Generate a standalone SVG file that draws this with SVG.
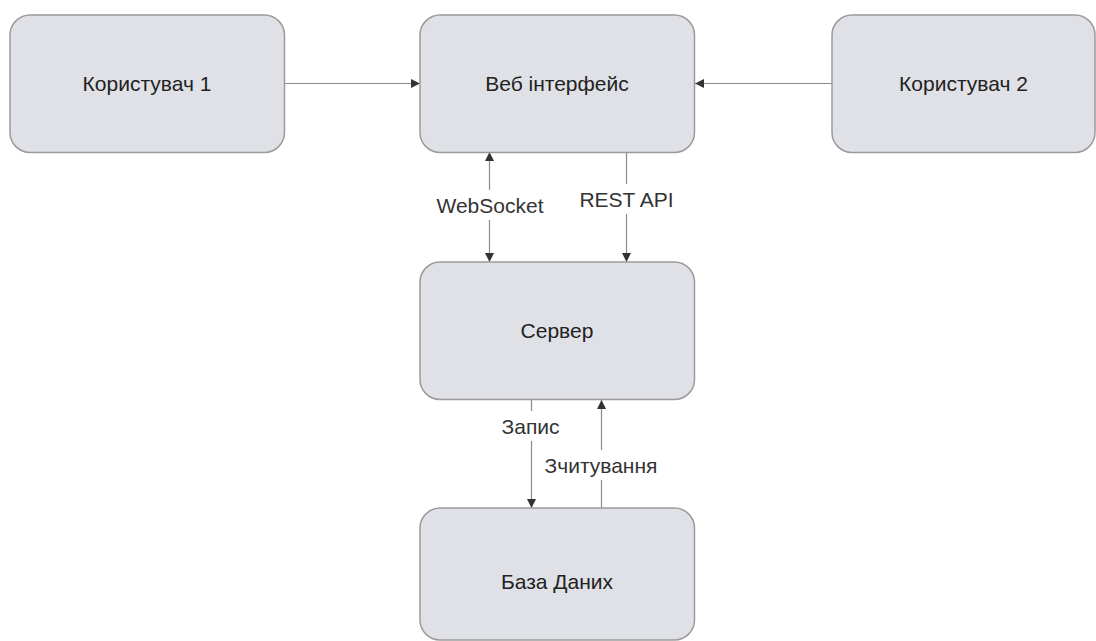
<svg xmlns="http://www.w3.org/2000/svg" width="1096" height="641" viewBox="0 0 1096 641">
<style>
.node{fill:#dfe1e6;stroke:#9b9b9b;stroke-width:1.5}
.nt{font-family:"Liberation Sans",Arial,sans-serif;font-size:21px;fill:#222;text-anchor:middle;dominant-baseline:central}
.lbl{font-family:"Liberation Sans",Arial,sans-serif;font-size:21px;fill:#333;text-anchor:middle;dominant-baseline:central}
.edge{stroke:#8a8a8a;stroke-width:1.2;fill:none}
.bg{fill:#fff}
</style>
<defs>
<marker id="ah" viewBox="0 0 10 10" refX="10" refY="5" markerWidth="9" markerHeight="9" markerUnits="userSpaceOnUse" orient="auto-start-reverse">
<path d="M0,0 L10,5 L0,10 z" fill="#333"/>
</marker>
</defs>
<rect width="1096" height="641" fill="#fff"/>
<g id="connectors">
<line class="edge" x1="285" y1="83.5" x2="420" y2="83.5" marker-end="url(#ah)"/>
<line class="edge" x1="832" y1="83.5" x2="695" y2="83.5" marker-end="url(#ah)"/>
<line class="edge" x1="489.5" y1="152" x2="489.5" y2="262" marker-start="url(#ah)" marker-end="url(#ah)"/>
<line class="edge" x1="626.5" y1="152" x2="626.5" y2="262" marker-end="url(#ah)"/>
<line class="edge" x1="531.5" y1="400" x2="531.5" y2="508" marker-end="url(#ah)"/>
<line class="edge" x1="601.5" y1="508" x2="601.5" y2="400" marker-end="url(#ah)"/>
<rect class="bg" x="430" y="190" width="120" height="30"/>
<text class="lbl" x="490" y="205">WebSocket</text>
<rect class="bg" x="574" y="184" width="106" height="30"/>
<text class="lbl" x="626.5" y="199">REST API</text>
<rect class="bg" x="496" y="411" width="70" height="30"/>
<text class="lbl" x="530.5" y="426">Запис</text>
<rect class="bg" x="540" y="450" width="124" height="30"/>
<text class="lbl" x="601" y="465">Зчитування</text>
</g>
<g id="user1">
<rect class="node" x="10" y="15" width="274.5" height="137.5" rx="20"/>
<text class="nt" x="147" y="83.5">Користувач 1</text>
</g>
<g id="web">
<rect class="node" x="420" y="15" width="274.5" height="137.5" rx="20"/>
<text class="nt" x="557" y="83.5">Веб інтерфейс</text>
</g>
<g id="user2">
<rect class="node" x="832" y="15" width="263" height="137.5" rx="20"/>
<text class="nt" x="963.5" y="83.5">Користувач 2</text>
</g>
<g id="server">
<rect class="node" x="420" y="262" width="274.5" height="137.5" rx="20"/>
<text class="nt" x="557" y="330.5">Сервер</text>
</g>
<g id="db">
<rect class="node" x="420" y="508" width="274.5" height="132" rx="20"/>
<text class="nt" x="557" y="581">База Даних</text>
</g>
</svg>
